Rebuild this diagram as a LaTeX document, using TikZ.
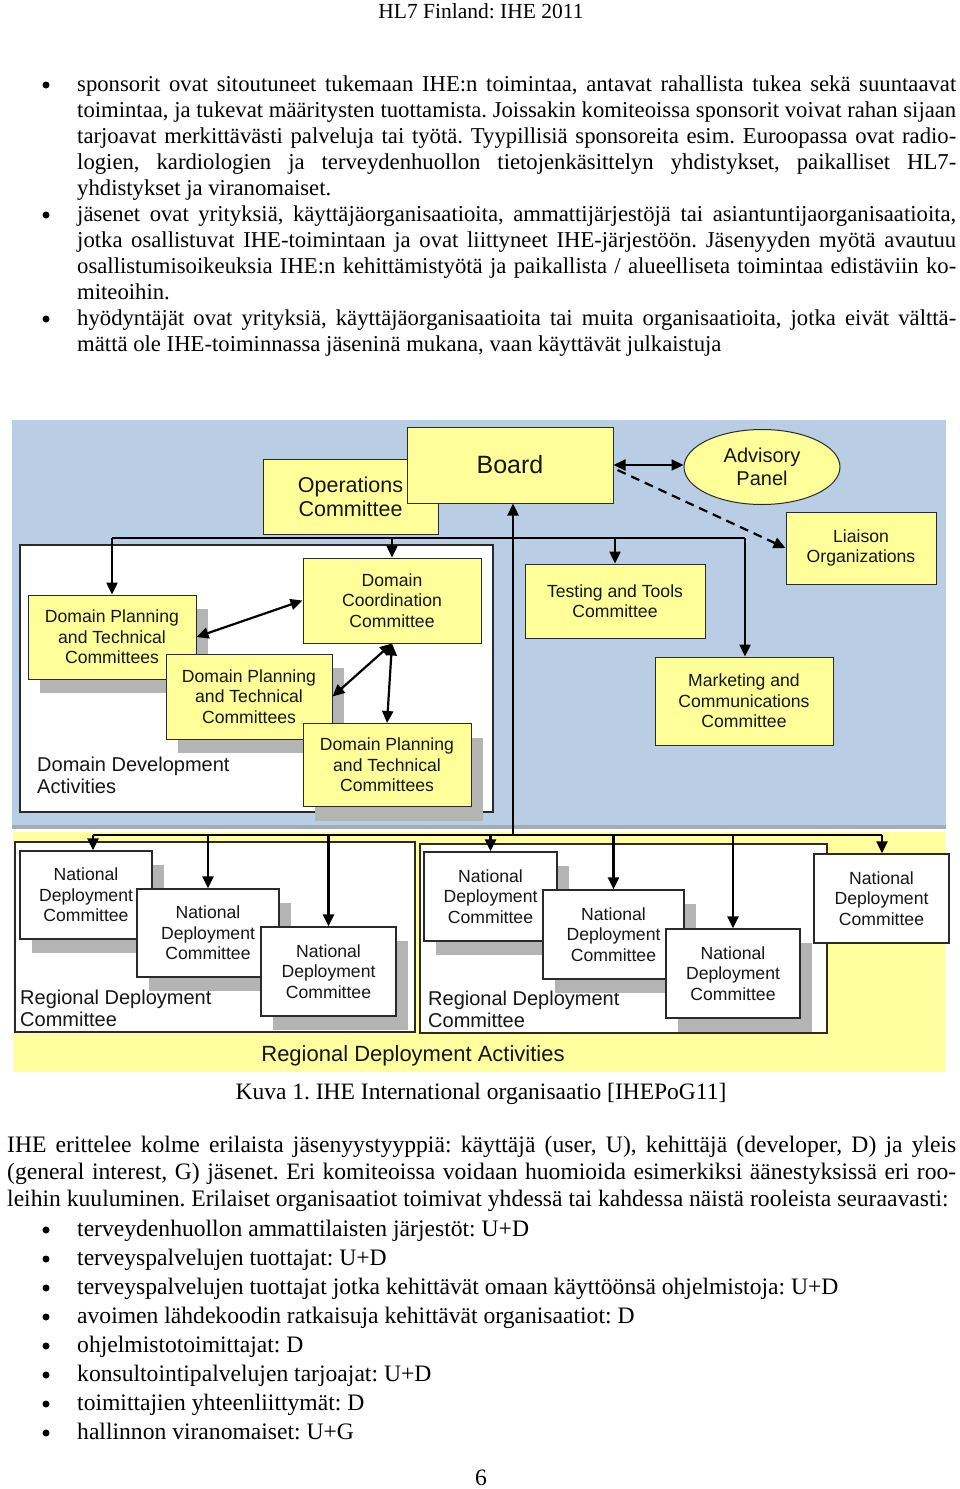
\documentclass[tikz,border=0pt]{standalone}
\usepackage{fontspec}
\setmainfont{Liberation Serif}
\newfontfamily\arialf{Liberation Sans}
\usetikzlibrary{arrows.meta,shadows,shapes.geometric,calc}
\definecolor{bgblue}{HTML}{B9CDE5}
\definecolor{bandgray}{HTML}{A3ABB5}
\definecolor{regyellow}{HTML}{FFFF9F}
\definecolor{boxyellow}{HTML}{FFFF99}
\definecolor{shgray}{HTML}{B4B4B4}
\definecolor{dtext}{HTML}{161616}
\definecolor{bordc}{HTML}{2A2A2A}
\newcommand\jl[2]{\hbox to #1pt{#2}}
\frenchspacing
\begin{document}
\begin{tikzpicture}[x=1pt,y=-1pt,
  body/.style={anchor=base west, inner sep=0pt, font=\fontsize{22.7}{27}\selectfont},
  bodyb/.style={anchor=base west, inner sep=0pt, font=\fontsize{23.6}{27}\selectfont},
  sz/.style 2 args={minimum width=#1pt, minimum height=#2pt},
  dfont/.style={font=\arialf\fontsize{17.6}{20.5}\selectfont},
  ybox/.style={draw=bordc, line width=1pt, fill=boxyellow, text=dtext, align=center, inner sep=0pt, dfont},
  wbox/.style={draw=bordc, line width=1.2pt, fill=white, inner sep=0pt},
  nbox/.style={wbox, text=dtext, align=center, dfont},
  shad/.style={drop shadow={shadow xshift=12pt, shadow yshift=-14pt, fill=shgray, opacity=1}},
  lbl/.style={anchor=base west, inner sep=0pt, text=dtext, font=\arialf\fontsize{20}{22}\selectfont},
  conn/.style={line width=2.4pt, draw=black},
  arr/.style={conn, -{Triangle[length=12pt,width=11pt]}},
  darr/.style={line width=2.2pt, draw=black, {Triangle[length=12pt,width=11pt]}-{Triangle[length=12pt,width=11pt]}},
  bul/.style={fill=black}
]
\useasboundingbox[fill=white] (0,0) rectangle (960,1489);

% ---------------- header and upper text ----------------
\node[anchor=base, inner sep=0pt, font=\fontsize{21.5}{25}\selectfont] (hdr) at (481,18) {HL7 Finland: IHE 2011};

\fill[bul] (46,85) circle (3.5);
\fill[bul] (46,215) circle (3.5);
\fill[bul] (46,319) circle (3.5);

\node[body] (l1) at (77,91) {\jl{879}{sponsorit ovat sitoutuneet tukemaan IHE:n toimintaa, antavat rahallista tukea sekä suuntaavat}};
\node[body] (l2) at (77,117) {\jl{879}{toimintaa, ja tukevat määritysten tuottamista. Joissakin komiteoissa sponsorit voivat rahan sijaan}};
\node[body] (l3) at (77,143) {\jl{879}{tarjoavat merkittävästi palveluja tai työtä. Tyypillisiä sponsoreita esim. Euroopassa ovat radio-}};
\node[body] (l4) at (77,169) {\jl{879}{logien, kardiologien ja terveydenhuollon tietojenkäsittelyn yhdistykset, paikalliset HL7-}};
\node[body] (l5) at (77,195) {yhdistykset ja viranomaiset.};
\node[body] (l6) at (77,221) {\jl{879}{jäsenet ovat yrityksiä, käyttäjäorganisaatioita, ammattijärjestöjä tai asiantuntijaorganisaatioita,}};
\node[body] (l7) at (77,247) {\jl{879}{jotka osallistuvat IHE-toimintaan ja ovat liittyneet IHE-järjestöön. Jäsenyyden myötä avautuu}};
\node[body] (l8) at (77,273) {\jl{879}{osallistumisoikeuksia IHE:n kehittämistyötä ja paikallista / alueelliseta toimintaa edistäviin ko-}};
\node[body] (l9) at (77,299) {miteoihin.};
\node[body] (l10) at (77,325) {\jl{879}{hyödyntäjät ovat yrityksiä, käyttäjäorganisaatioita tai muita organisaatioita, jotka eivät välttä-}};
\node[body] (l11) at (77,351) {mättä ole IHE-toiminnassa jäseninä mukana, vaan käyttävät julkaistuja};

% ---------------- diagram backgrounds ----------------
\fill[bgblue] (12,420) rectangle (946,827);
\fill[bandgray] (12,825) rectangle (946,829);
\fill[regyellow] (13,832) rectangle (945,1072);

% ---------------- domain development ----------------
\node[wbox, sz={473}{267}] (dda) at (256.5,678.5) {};
\node[lbl] (ddat1) at (37,771) {Domain Development};
\node[lbl] (ddat2) at (37,793) {Activities};

\node[ybox, sz={175}{75}, font=\arialf\fontsize{21.5}{24.5}\selectfont] (ops) at (350.5,497) {Operations\\Committee};
\node[ybox, sz={206}{76}, font=\arialf\fontsize{25}{28}\selectfont] (board) at (510,465) {Board};
\node[ellipse, draw=bordc, line width=1pt, fill=boxyellow, text=dtext, align=center, inner sep=0pt,
      minimum width=156pt, minimum height=75pt, font=\arialf\fontsize{20}{22.5}\selectfont] (adv) at (762,467) {Advisory\\Panel};
\node[ybox, sz={150}{72}] (lia) at (861,548) {Liaison\\Organizations};
\node[ybox, sz={180}{74}] (tst) at (615,601) {Testing and Tools\\Committee};
\node[ybox, sz={178}{88}] (mkt) at (744,701) {Marketing and\\Communications\\Committee};

\node[ybox, sz={178}{85}] (dcc) at (392,600.5) {Domain\\Coordination\\Committee};
\node[ybox, shad, sz={168}{84}] (dp1) at (112,637) {Domain Planning\\and Technical\\Committees};
\node[ybox, shad, sz={166}{85}] (dp2) at (249,696.5) {Domain Planning\\and Technical\\Committees};
\node[ybox, shad, sz={168}{83}] (dp3) at (387,765) {Domain Planning\\and Technical\\Committees};

% ---------------- regional deployment ----------------
\node[wbox, sz={400}{190}] (rdc1) at (215,937) {};
\node[wbox, sz={407}{189}] (rdc2) at (623.5,938.5) {};
\node[lbl] (rdc1a) at (20,1004) {Regional Deployment};
\node[lbl] (rdc1b) at (20,1026) {Committee};
\node[lbl] (rdc2a) at (428,1005) {Regional Deployment};
\node[lbl] (rdc2b) at (428,1027) {Committee};

\node[nbox, shad, sz={132}{88}] (nd1) at (86,895) {National\\Deployment\\Committee};
\node[nbox, shad, sz={142}{88}] (nd2) at (208,933) {National\\Deployment\\Committee};
\node[nbox, shad, sz={135}{89}] (nd3) at (328.5,971.5) {National\\Deployment\\Committee};
\node[nbox, shad, sz={133}{89}] (nd4) at (490.5,896.5) {National\\Deployment\\Committee};
\node[nbox, shad, sz={141}{89}] (nd5) at (613.5,934.5) {National\\Deployment\\Committee};
\node[nbox, shad, sz={134}{89}] (nd6) at (733,973.5) {National\\Deployment\\Committee};
\node[nbox, sz={135}{89}] (nd7) at (881.5,898.5) {National\\Deployment\\Committee};

\node[anchor=base, inner sep=0pt, text=dtext, font=\arialf\fontsize{22}{25}\selectfont] (rda) at (413,1061) {Regional Deployment Activities};

% ---------------- connectors ----------------
\coordinate (tl) at (112,538);
\coordinate (tr) at (745,538);
\draw[conn] (tl) -- (tr);
\draw[arr] (tl) -- (dp1.north -| tl);
\draw[arr] (dcc.north |- tl) -- (dcc.north);
\draw[arr] (tst.north |- tl) -- (tst.north);
\draw[arr] (tr) -- (mkt.north -| tr);

\coordinate (rl) at (93,835);
\coordinate (rr) at (882,835);
\coordinate (bv) at (513,835);
\draw[conn] (rl) -- (rr);
\draw[arr] (bv) -- (board.south -| bv);
\draw[arr] (rl) -- (nd1.north -| rl);
\draw[arr] (nd2.north |- rl) -- (nd2.north);
\draw[arr] (nd3.north |- rl) -- (nd3.north);
\draw[arr] (nd4.north |- rl) -- (nd4.north);
\draw[arr] (nd5.north |- rl) -- (nd5.north);
\draw[arr] (nd6.north |- rl) -- (nd6.north);
\draw[arr] (rr) -- (nd7.north -| rr);

\draw[darr] (dp1.east) -- (dcc.west);
\draw[darr] (dcc.south) -- (dp2.east);
\draw[darr] (dcc.south) -- (dp3.north);
\draw[darr] (board.east) -- (board.east -| adv.west);
\draw[line width=2.2pt, dash pattern=on 9pt off 6pt, -{Triangle[length=12pt,width=11pt]}] ($(board.east)+(4,5)$) -- (lia.west);

% ---------------- lower text ----------------
\node[anchor=base, inner sep=0pt, font=\fontsize{23.5}{27}\selectfont] (cap) at (481,1099) {Kuva 1. IHE International organisaatio [IHEPoG11]};

\node[bodyb] (m1) at (7,1152) {\jl{949}{IHE erittelee kolme erilaista jäsenyystyyppiä: käyttäjä (user, U), kehittäjä (developer, D) ja yleis}};
\node[bodyb] (m2) at (7,1179) {\jl{949}{(general interest, G) jäsenet. Eri komiteoissa voidaan huomioida esimerkiksi äänestyksissä eri roo-}};
\node[bodyb] (m3) at (7,1206) {leihin kuuluminen. Erilaiset organisaatiot toimivat yhdessä tai kahdessa näistä rooleista seuraavasti:};

\foreach \i in {0,...,7} { \fill[bul] (46,1230+29*\i) circle (3.5); }
\node[bodyb] (b1) at (77,1236) {terveydenhuollon ammattilaisten järjestöt: U+D};
\node[bodyb] (b2) at (77,1265) {terveyspalvelujen tuottajat: U+D};
\node[bodyb] (b3) at (77,1294) {terveyspalvelujen tuottajat jotka kehittävät omaan käyttöönsä ohjelmistoja: U+D};
\node[bodyb] (b4) at (77,1323) {avoimen lähdekoodin ratkaisuja kehittävät organisaatiot: D};
\node[bodyb] (b5) at (77,1352) {ohjelmistotoimittajat: D};
\node[bodyb] (b6) at (77,1381) {konsultointipalvelujen tarjoajat: U+D};
\node[bodyb] (b7) at (77,1410) {toimittajien yhteenliittymät: D};
\node[bodyb] (b8) at (77,1439) {hallinnon viranomaiset: U+G};

\node[anchor=base, inner sep=0pt, font=\fontsize{23.5}{27}\selectfont] (pg) at (481,1485) {6};
\end{tikzpicture}
\end{document}
